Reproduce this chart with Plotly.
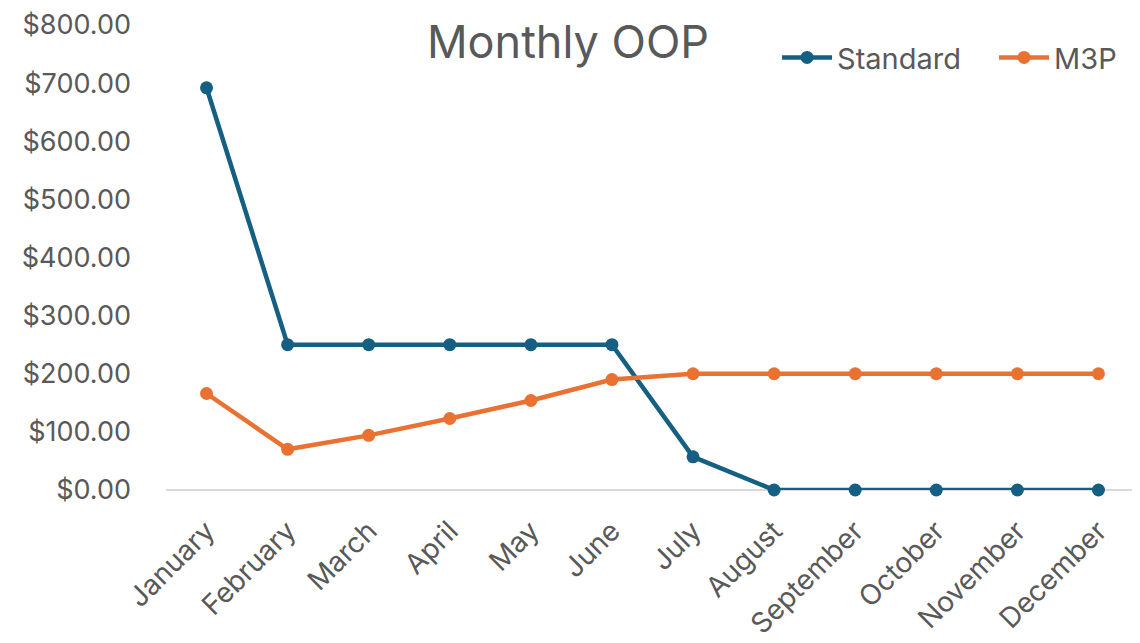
import plotly.graph_objects as go

months = ["January", "February", "March", "April", "May", "June", "July",
          "August", "September", "October", "November", "December"]
standard = [692, 250, 250, 250, 250, 250, 57, 0, 0, 0, 0, 0]
m3p = [166, 70, 94, 123, 154, 190, 200, 200, 200, 200, 200, 200]

FONT = "Inter, Noto Sans, sans-serif"
GRAY = "#595959"

fig = go.Figure()
fig.add_trace(go.Scatter(x=months, y=standard, name="Standard", mode="lines+markers",
                         line=dict(color="#156082", width=4.5), cliponaxis=False,
                         marker=dict(size=13, color="#156082")))
fig.add_trace(go.Scatter(x=months, y=m3p, name="M3P", mode="lines+markers",
                         line=dict(color="#E97132", width=4.5), cliponaxis=False,
                         marker=dict(size=13, color="#E97132")))

# page body has an 8px default margin, so the figure is sized/placed to compensate
fig.update_layout(
    width=1132, height=635,
    margin=dict(l=158, r=1, t=17, b=153, autoexpand=False),
    paper_bgcolor="white", plot_bgcolor="white",
    font=dict(family=FONT, color=GRAY, size=28),
    title=dict(text="Monthly OOP", x=560 / 1132, xanchor="center", y=1 - 34 / 635,
               yref="container", yanchor="middle",
               font=dict(size=45, color=GRAY, family=FONT)),
    showlegend=True,
    legend=dict(orientation="h", x=0.628, xanchor="left", y=0.93, yanchor="middle",
                font=dict(size=29, color=GRAY, family=FONT), bgcolor="rgba(0,0,0,0)",
                itemwidth=50, entrywidth=152),
    xaxis=dict(type="category", range=[-0.5, 11.5], showgrid=False, showline=False,
               automargin=False, ticklabeloverflow="allow",
               tickangle=-45, ticks="", tickfont=dict(size=28, color=GRAY),
               ticklabelstandoff=18),
    yaxis=dict(range=[0, 800], dtick=100, tickformat="$,.2f", showgrid=False,
               automargin=False, ticklabeloverflow="allow",
               zeroline=True, zerolinecolor="#d9d9d9", zerolinewidth=1.5,
               showline=False, ticks="", tickfont=dict(size=27, color=GRAY),
               ticklabelstandoff=34),
)

fig.write_html("out.html")
